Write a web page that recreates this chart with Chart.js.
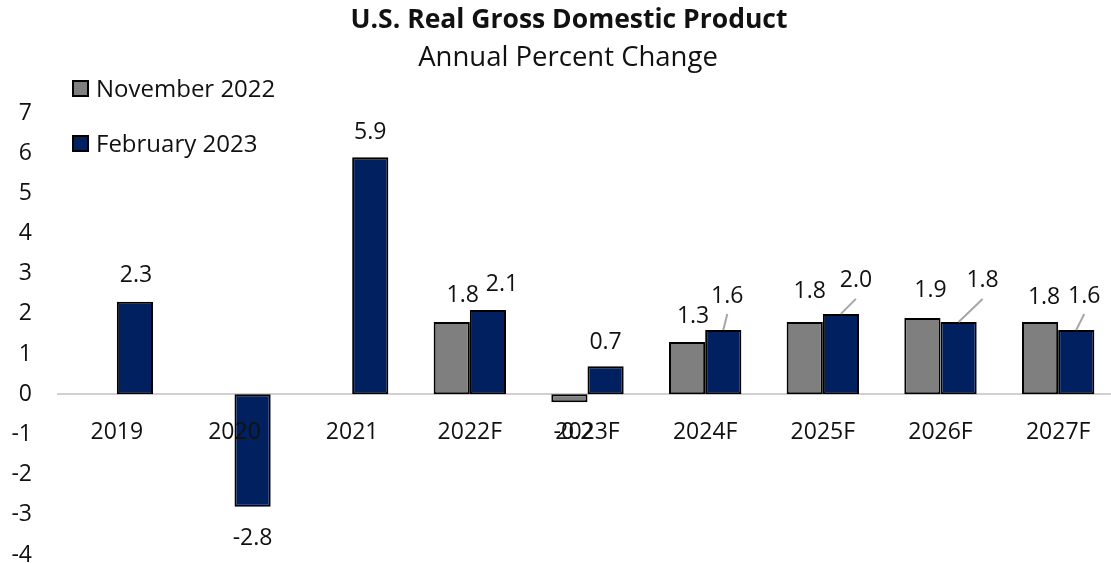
<!DOCTYPE html>
<html>
<head>
<meta charset="utf-8">
<script src="https://cdn.jsdelivr.net/npm/chart.js@4"></script>
<style>
    html, body { margin: 0; padding: 0; background: #fff; overflow: hidden; }
    #wrap { width: 1117px; height: 564px; }
</style>
</head>
<body>
<div id="wrap"><canvas id="grafico"></canvas></div>
<script>
const categorias = ['2019', '2020', '2021', '2022F', '2023F', '2024F', '2025F', '2026F', '2027F'];
const novembro2022 = [null, null, null, 1.8, -0.2, 1.3, 1.8, 1.9, 1.8];
const fevereiro2023 = [2.3, -2.8, 5.9, 2.1, 0.7, 1.6, 2.0, 1.8, 1.6];
const yMin = -4;
const yMax = 7;

// deslocamento dos rotulos [dx, dy, linha guia]
const ajustes = [
    [null, null, null, [11, -26], [4, 30], [6, -26], [5, -30], [8, -27], [4, -24]],
    [[1, -26], [0, 32], [0, -25], [14, -25], [0, -24], [4, -34, true], [15, -33, true], [24, -41, true], [8, -34, true]]
];

const fonte = '"Open Sans", Lato, sans-serif';
const corTexto = '#111';

const rotulos = {
    id: 'rotulos',
    afterDatasetsDraw(chart) {
        const ctx = chart.ctx;
        ctx.save();
        ctx.font = '23px ' + fonte;
        ctx.textAlign = 'center';
        ctx.textBaseline = 'middle';
        chart.data.datasets.forEach((ds, i) => {
            const meta = chart.getDatasetMeta(i);
            meta.data.forEach((bar, j) => {
                const v = ds.data[j];
                const aj = ajustes[i][j];
                if (v === null || !aj) return;
                const lx = bar.x + aj[0];
                const ly = bar.y + aj[1];
                if (aj[2]) {
                    ctx.strokeStyle = '#a6a6a6';
                    ctx.lineWidth = 2;
                    ctx.beginPath();
                    ctx.moveTo(bar.x, bar.y);
                    ctx.lineTo(lx, ly + 18);
                    ctx.stroke();
                }
                ctx.fillStyle = corTexto;
                ctx.fillText(v.toFixed(1), lx, ly);
            });
        });
        ctx.restore();
    }
};

const titulo = {
    id: 'titulo',
    afterDraw(chart) {
        const ctx = chart.ctx;
        ctx.save();
        ctx.fillStyle = corTexto;
        ctx.textAlign = 'center';
        ctx.textBaseline = 'middle';
        ctx.font = 'bold 26.5px ' + fonte;
        ctx.fillText('U.S. Real Gross Domestic Product', 569, 20);
        ctx.font = '27.5px ' + fonte;
        ctx.fillText('Annual Percent Change', 568, 58);

        // legenda
        const itens = [
            { nome: 'November 2022', cor: '#7f7f7f', y: 89 },
            { nome: 'February 2023', cor: '#002060', y: 144 }
        ];
        itens.forEach(it => {
            ctx.fillStyle = it.cor;
            ctx.fillRect(73, it.y - 8, 15, 15);
            ctx.strokeStyle = '#000';
            ctx.lineWidth = 2;
            ctx.strokeRect(73, it.y - 8, 15, 15);
            ctx.fillStyle = corTexto;
            ctx.textAlign = 'left';
            ctx.font = '24px ' + fonte;
            ctx.fillText(it.nome, 96, it.y + 1);
        });
        ctx.restore();
    }
};

new Chart(document.getElementById('grafico'), {
    type: 'bar',
    data: {
        labels: categorias,
        datasets: [{
            label: 'November 2022',
            data: novembro2022,
            backgroundColor: '#7f7f7f',
            borderColor: '#000',
            borderWidth: 2,
            borderSkipped: false
        }, {
            label: 'February 2023',
            data: fevereiro2023,
            backgroundColor: '#002060',
            borderColor: '#000',
            borderWidth: 2,
            borderSkipped: false
        }]
    },
    options: {
        responsive: true,
        maintainAspectRatio: false,
        animation: false,
        datasets: {
            bar: { categoryPercentage: 0.615, barPercentage: 1 }
        },
        layout: { padding: { top: 113, bottom: 9, left: 0, right: 0 } },
        plugins: {
            legend: { display: false },
            tooltip: { enabled: false }
        },
        scales: {
            x: {
                position: { y: 0 },
                afterFit(scale) { scale.height = 0; },
                grid: { display: false, drawTicks: false },
                border: { color: '#d0d0d0', width: 2 },
                ticks: {
                    z: 1,
                    padding: 24,
                    color: corTexto,
                    font: { family: fonte, size: 23 },
                    maxRotation: 0
                }
            },
            y: {
                min: yMin,
                max: yMax,
                grid: { display: false, drawTicks: false },
                border: { display: false },
                afterFit(scale) {
                    scale.width = 58;
                    scale.paddingTop = 0;
                    scale.paddingBottom = 0;
                },
                ticks: {
                    stepSize: 1,
                    padding: 26,
                    color: corTexto,
                    font: { family: fonte, size: 23 }
                }
            }
        }
    },
    plugins: [rotulos, titulo]
});
</script>
</body>
</html>
